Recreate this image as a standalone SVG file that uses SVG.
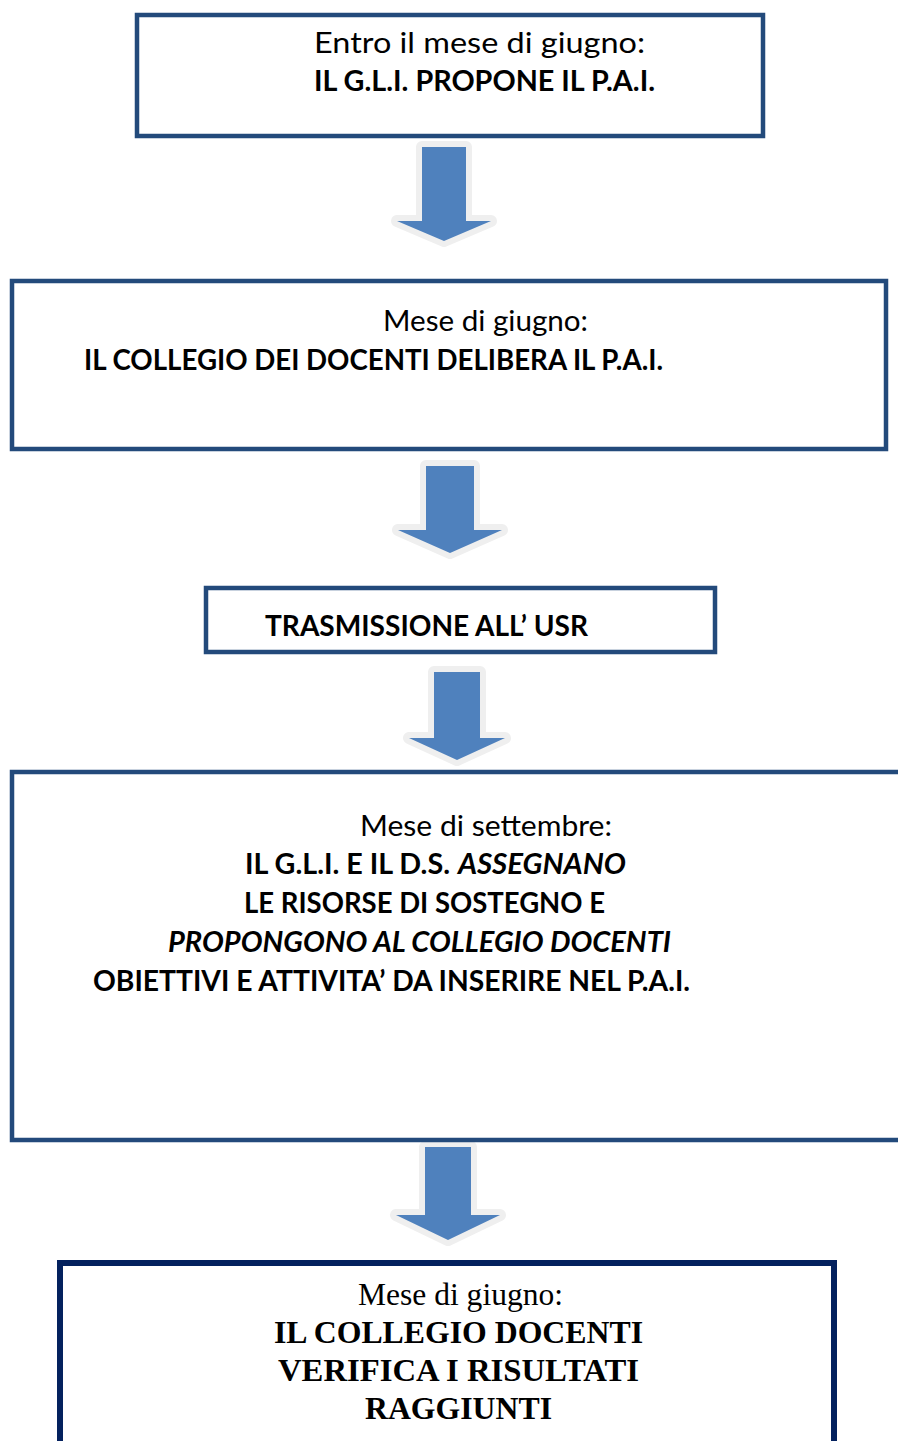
<svg xmlns="http://www.w3.org/2000/svg" width="898" height="1441" viewBox="0 0 898 1441">
<style>
.box{fill:#ffffff;stroke:#234a7b;stroke-width:4.5}
.box5{fill:#ffffff;stroke:#04215e;stroke-width:6}
.halo{fill:#efefef;stroke:#efefef;stroke-width:12;stroke-linejoin:round}
.arr{fill:#4f81bd}
.s{font-family:Lato,"Open Sans",sans-serif;font-size:29px;fill:#000}
.b{font-weight:bold}
.i{font-style:italic}
.t{font-family:"Liberation Serif","Times New Roman",serif;font-size:31.5px;fill:#000}
</style>
<rect width="898" height="1441" fill="#ffffff"/>
<g id="connectors">
<path class="halo" d="M422,147H466V221H491L444,241L397,221H422Z"/>
<path class="arr" d="M422,147H466V221H491L444,241L397,221H422Z"/>
<path class="halo" d="M426,466H474V530H502L450,553L398,530H426Z"/>
<path class="arr" d="M426,466H474V530H502L450,553L398,530H426Z"/>
<path class="halo" d="M434,672H480V738H505L457,760L409,738H434Z"/>
<path class="arr" d="M434,672H480V738H505L457,760L409,738H434Z"/>
<path class="halo" d="M425,1147H471V1215H500L448,1240L396,1215H425Z"/>
<path class="arr" d="M425,1147H471V1215H500L448,1240L396,1215H425Z"/>
</g>
<g id="node1">
<rect class="box" x="137" y="15" width="626" height="121"/>
<text class="s" x="314" y="53" textLength="331" lengthAdjust="spacingAndGlyphs">Entro il mese di giugno:</text>
<text class="s b" x="314" y="91" textLength="341" lengthAdjust="spacingAndGlyphs">IL G.L.I. PROPONE IL P.A.I.</text>
</g>
<g id="node2">
<rect class="box" x="12" y="281" width="874" height="168"/>
<text class="s" x="383" y="331" textLength="205" lengthAdjust="spacingAndGlyphs">Mese di giugno:</text>
<text class="s b" x="84" y="370" textLength="579" lengthAdjust="spacingAndGlyphs">IL COLLEGIO DEI DOCENTI DELIBERA IL P.A.I.</text>
</g>
<g id="node3">
<rect class="box" x="206" y="588" width="509" height="64"/>
<text class="s b" x="265" y="636" textLength="323" lengthAdjust="spacingAndGlyphs">TRASMISSIONE ALL’ USR</text>
</g>
<g id="node4">
<path class="box" d="M900,772H12V1140H900"/>
<text class="s" x="360" y="836" textLength="252" lengthAdjust="spacingAndGlyphs">Mese di settembre:</text>
<text class="s b" x="245" y="874" textLength="205" lengthAdjust="spacingAndGlyphs">IL G.L.I. E IL D.S.</text>
<text class="s b i" x="458" y="874" textLength="168" lengthAdjust="spacingAndGlyphs">ASSEGNANO</text>
<text class="s b" x="244" y="913" textLength="361" lengthAdjust="spacingAndGlyphs">LE RISORSE DI SOSTEGNO E</text>
<text class="s b i" x="168" y="952" textLength="503" lengthAdjust="spacingAndGlyphs">PROPONGONO AL COLLEGIO DOCENTI</text>
<text class="s b" x="93" y="991" textLength="597" lengthAdjust="spacingAndGlyphs">OBIETTIVI E ATTIVITA’ DA INSERIRE NEL P.A.I.</text>
</g>
<g id="node5">
<path class="box5" d="M60,1450V1263H834V1450"/>
<text class="t" x="358" y="1305" textLength="205" lengthAdjust="spacingAndGlyphs">Mese di giugno:</text>
<text class="t b" x="274" y="1343" textLength="369" lengthAdjust="spacingAndGlyphs">IL COLLEGIO DOCENTI</text>
<text class="t b" x="278" y="1381" textLength="361" lengthAdjust="spacingAndGlyphs">VERIFICA I RISULTATI</text>
<text class="t b" x="365" y="1419" textLength="187" lengthAdjust="spacingAndGlyphs">RAGGIUNTI</text>
</g>
</svg>
